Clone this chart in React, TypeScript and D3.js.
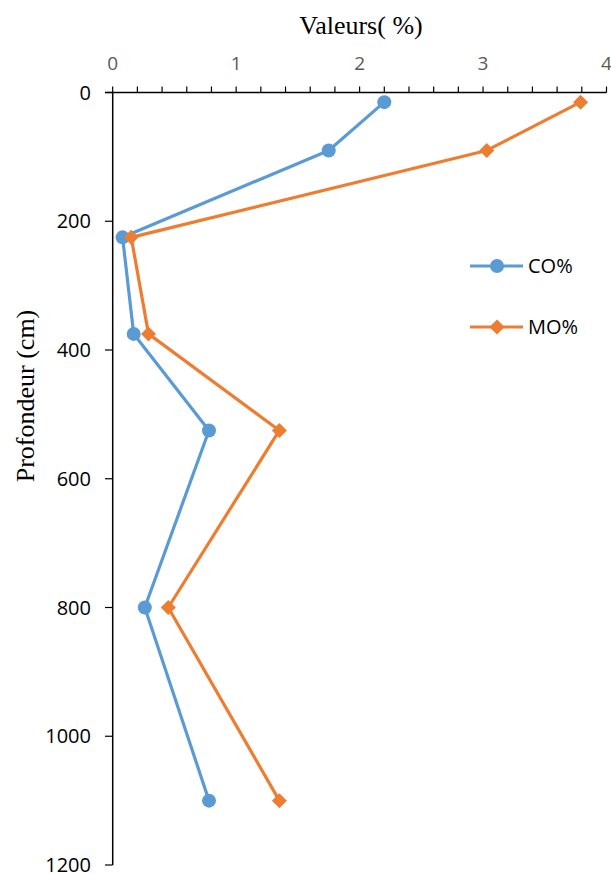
import React from "react";
import * as d3 from "d3";

const depths = [15, 90, 225, 375, 525, 800, 1100];
const coValues = [2.2, 1.75, 0.08, 0.17, 0.78, 0.26, 0.78];
const moValues = [3.79, 3.03, 0.15, 0.29, 1.35, 0.45, 1.35];
const xTicks = [0, 1, 2, 3, 4];
const yTicks = [0, 200, 400, 600, 800, 1000, 1200];
const seriesNames = ["CO%", "MO%"];
const colors = ["#5B9BD5", "#ED7D31"];

export default function App() {
  const W = 611, H = 874;
  const x = d3.scaleLinear().domain([0, 4]).range([112.7, 606.5]);
  const y = d3.scaleLinear().domain([0, 1200]).range([92.5, 865]);
  const line = d3.line<[number, number]>().x(d => x(d[0])).y(d => y(d[1]));
  const series = [coValues, moValues].map(vals => vals.map((v, i) => [v, depths[i]] as [number, number]));
  const minorX = d3.range(0, 4.0001, 0.2);
  const tickFont = "'Open Sans', 'Liberation Sans', sans-serif";
  const diamond = (cx: number, cy: number, r: number) => `M${cx},${cy - r}L${cx + r},${cy}L${cx},${cy + r}L${cx - r},${cy}Z`;
  return (
    <svg width={W} height={H} style={{ position: "absolute", left: 0, top: 0, background: "#fff" }}>
      <text x={361} y={34} textAnchor="middle" fontFamily="'Liberation Serif', serif" fontSize={26} fill="#000">Valeurs( %)</text>
      <text transform={`translate(34,396) rotate(-90)`} textAnchor="middle" fontFamily="'Liberation Serif', serif" fontSize={26} fill="#000">Profondeur (cm)</text>
      {/* x axis */}
      <line x1={105} x2={x(4)} y1={y(0)} y2={y(0)} stroke="#000" strokeWidth={1.5} />
      {minorX.map((t, i) => (
        <line key={i} x1={x(t)} x2={x(t)} y1={y(0)} y2={y(0) - 6} stroke="#000" strokeWidth={1.2} />
      ))}
      {xTicks.map(t => (
        <text key={t} x={x(t)} y={70} textAnchor="middle" fontFamily={tickFont} fontSize={19} fill="#595959">{t}</text>
      ))}
      {/* y axis */}
      <line x1={x(0)} x2={x(0)} y1={y(0)} y2={y(1200)} stroke="#000" strokeWidth={1.5} />
      {yTicks.map(t => (
        <g key={t}>
          <line x1={105} x2={x(0)} y1={y(t)} y2={y(t)} stroke="#000" strokeWidth={1.2} />
          <text x={91} y={y(t) + 7} textAnchor="end" fontFamily={tickFont} fontSize={20} fill="#000">{t}</text>
        </g>
      ))}
      {/* series */}
      {series.map((s, si) => (
        <g key={si}>
          <path d={line(s) || ""} fill="none" stroke={colors[si]} strokeWidth={3.2} strokeLinejoin="round" />
          {s.map((d, i) =>
            si === 0 ? (
              <circle key={i} cx={x(d[0])} cy={y(d[1])} r={7} fill={colors[si]} />
            ) : (
              <path key={i} d={diamond(x(d[0]), y(d[1]), 7.5)} fill={colors[si]} />
            )
          )}
        </g>
      ))}
      {/* legend */}
      {seriesNames.map((n, i) => {
        const ly = 266 + i * 61;
        return (
          <g key={n}>
            <line x1={470} x2={523} y1={ly} y2={ly} stroke={colors[i]} strokeWidth={3.2} />
            {i === 0 ? <circle cx={497} cy={ly} r={7} fill={colors[i]} /> : <path d={diamond(497, ly, 7.5)} fill={colors[i]} />}
            <text x={528} y={ly + 7} fontFamily={tickFont} fontSize={20} fill="#000">{n}</text>
          </g>
        );
      })}
    </svg>
  );
}
